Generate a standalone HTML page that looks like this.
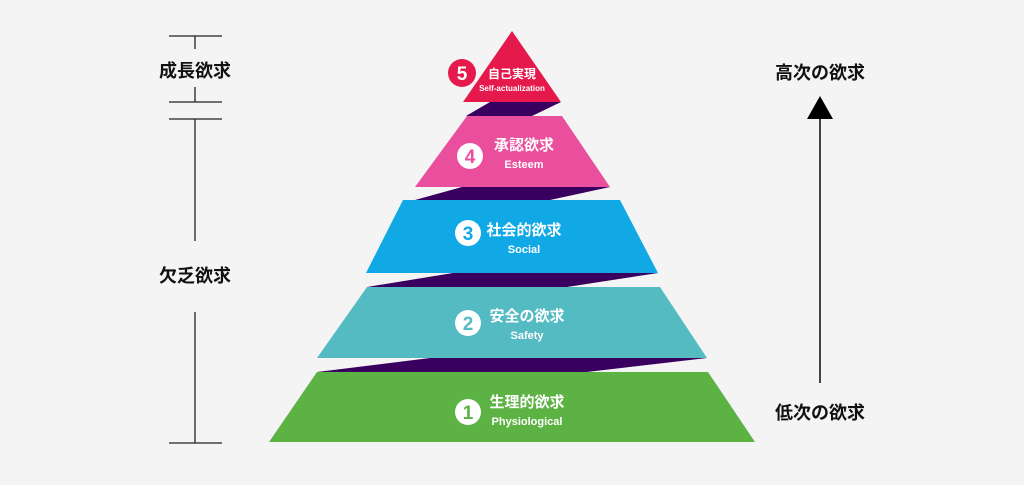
<!DOCTYPE html>
<html><head><meta charset="utf-8"><style>
html,body{margin:0;padding:0;background:#f4f4f4;}
svg{display:block;}
text{font-family:"Liberation Sans","Noto Sans CJK JP",sans-serif;}
</style></head><body>
<svg width="1024" height="485" viewBox="0 0 1024 485" xmlns="http://www.w3.org/2000/svg">
<rect width="1024" height="485" fill="#f4f4f4"/>
<!-- left brackets -->
<g stroke="#222" stroke-width="1.3">
<line x1="169" y1="36" x2="222" y2="36"/>
<line x1="169" y1="102" x2="222" y2="102"/>
<line x1="169" y1="119" x2="222" y2="119"/>
<line x1="169" y1="443" x2="222" y2="443"/>
<line x1="195" y1="36" x2="195" y2="49"/>
<line x1="195" y1="87" x2="195" y2="102"/>
<line x1="195" y1="119" x2="195" y2="241"/>
<line x1="195" y1="312" x2="195" y2="443"/>
</g>
<g font-size="18" font-weight="bold" fill="#111" text-anchor="middle">
<text x="195" y="77">成長欲求</text>
<text x="195" y="282">欠乏欲求</text>
<text x="820" y="79">高次の欲求</text>
<text x="820" y="419">低次の欲求</text>
</g>
<!-- right arrow -->
<line x1="820" y1="115" x2="820" y2="383" stroke="#444" stroke-width="2"/>
<polygon points="820,96 807,119 833,119" fill="#000"/>
<!-- bands -->
<polygon points="490,102 561,102 532,116 466,116" fill="#3a0060"/>
<polygon points="462,187 610,187 550,200 415,200" fill="#3a0060"/>
<polygon points="453,273 658,273 567,287 367,287" fill="#3a0060"/>
<polygon points="430,358 707,358 587,372 317,372" fill="#3a0060"/>
<!-- levels -->
<polygon points="512,31 561,102 463,102" fill="#e5194b"/>
<polygon points="467,116 562,116 610,187 415,187" fill="#ea4f9d"/>
<polygon points="403,200 620,200 658,273 366,273" fill="#10a9e6"/>
<polygon points="367,287 660,287 707,358 317,358" fill="#55bbc3"/>
<polygon points="317,372 708,372 755,442 269,442" fill="#5db244"/>
<!-- circles -->
<circle cx="462" cy="73" r="14" fill="#e5194b"/>
<text x="462" y="80" font-size="19" font-weight="bold" fill="#fff" text-anchor="middle">5</text>
<circle cx="470" cy="156" r="13" fill="#fff"/>
<text x="470" y="163" font-size="19" font-weight="bold" fill="#ea4f9d" text-anchor="middle">4</text>
<circle cx="468" cy="233" r="13" fill="#fff"/>
<text x="468" y="240" font-size="19" font-weight="bold" fill="#10a9e6" text-anchor="middle">3</text>
<circle cx="468" cy="323" r="13" fill="#fff"/>
<text x="468" y="330" font-size="19" font-weight="bold" fill="#55bbc3" text-anchor="middle">2</text>
<circle cx="468" cy="412" r="13" fill="#fff"/>
<text x="468" y="419" font-size="19" font-weight="bold" fill="#5db244" text-anchor="middle">1</text>
<!-- labels -->
<g fill="#fff" text-anchor="middle" font-weight="bold">
<text x="512" y="78" font-size="12">自己実現</text>
<text x="512" y="91" font-size="8">Self-actualization</text>
<text x="524" y="150" font-size="15">承認欲求</text>
<text x="524" y="168" font-size="11">Esteem</text>
<text x="524" y="235" font-size="15">社会的欲求</text>
<text x="524" y="253" font-size="11">Social</text>
<text x="527" y="321" font-size="15">安全の欲求</text>
<text x="527" y="339" font-size="11">Safety</text>
<text x="527" y="407" font-size="15">生理的欲求</text>
<text x="527" y="425" font-size="11">Physiological</text>
</g>
</svg>
</body></html>
